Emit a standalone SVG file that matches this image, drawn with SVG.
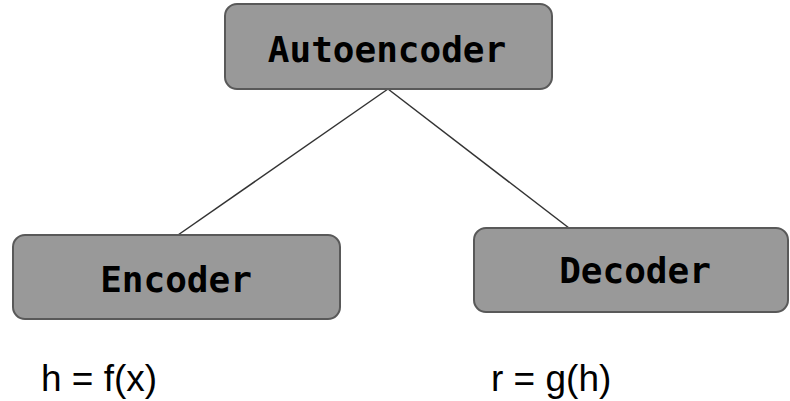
<svg xmlns="http://www.w3.org/2000/svg" width="790" height="401" viewBox="0 0 790 401">
<style>
.box{fill:#999999;stroke:#595959;stroke-width:2}
.lbl{font-family:"DejaVu Sans Mono",monospace;font-weight:bold;font-size:36px;fill:#000;text-anchor:middle}
.eq{font-family:"Liberation Sans",Arial,sans-serif;font-size:37px;fill:#000}
.conn{stroke:#333333;stroke-width:1.5;fill:none}
</style>
<rect width="790" height="401" fill="#ffffff"/>
<g id="connectors">
<line class="conn" x1="388" y1="89" x2="178" y2="235"/>
<line class="conn" x1="388" y1="89" x2="569" y2="228"/>
</g>
<g id="autoencoder">
<rect class="box" x="225" y="4" width="327" height="85" rx="12"/>
<text class="lbl" x="387" y="62">Autoencoder</text>
</g>
<g id="encoder">
<rect class="box" x="13" y="235" width="327" height="84" rx="12"/>
<text class="lbl" x="176" y="292">Encoder</text>
</g>
<g id="decoder">
<rect class="box" x="474" y="228" width="314" height="84" rx="12"/>
<text class="lbl" x="635" y="283">Decoder</text>
</g>
<text class="eq" x="41" y="391">h = f(x)</text>
<text class="eq" x="491" y="391">r = g(h)</text>
</svg>
